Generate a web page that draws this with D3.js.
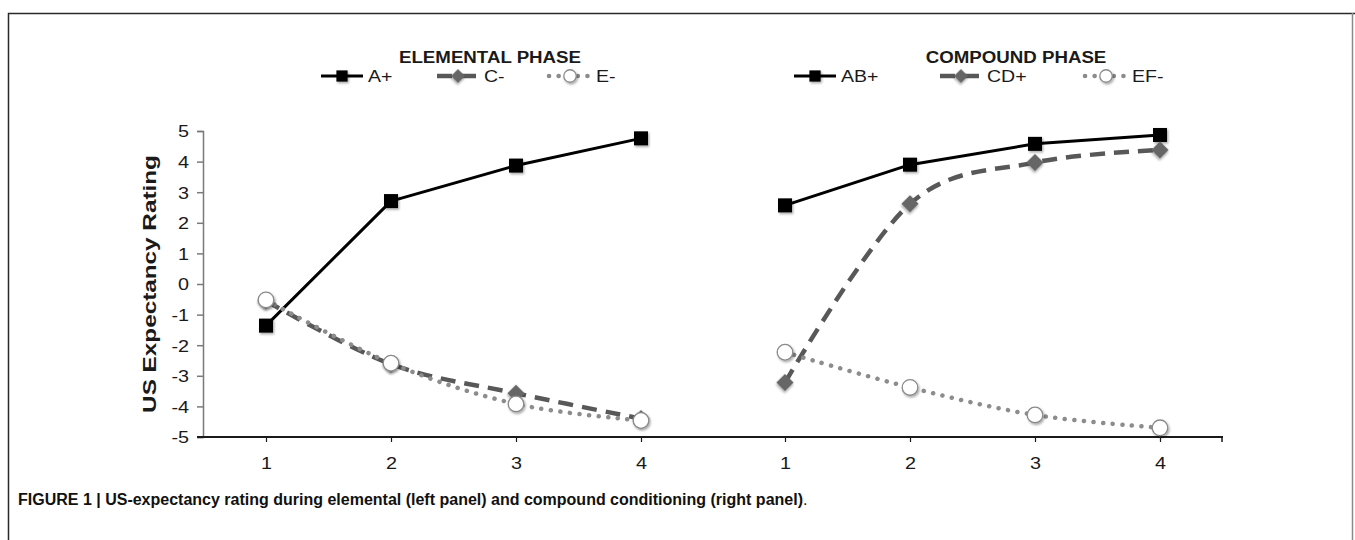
<!DOCTYPE html>
<html><head><meta charset="utf-8">
<script src="https://cdn.jsdelivr.net/npm/d3@7"></script>
<style>body{margin:0;background:#fff} svg{display:block}</style>
</head><body>
<svg id="chart" width="1355" height="540"></svg>
<script>
// ---------------- data ----------------
const trials = [1, 2, 3, 4];
const yTicks = [-5, -4, -3, -2, -1, 0, 1, 2, 3, 4, 5];
const panelTitles = ["ELEMENTAL PHASE", "COMPOUND PHASE"];
const elementalNames = ["A+", "C-", "E-"];
const compoundNames = ["AB+", "CD+", "EF-"];
const aPlus   = [-1.36, 2.71, 3.87, 4.76];
const cMinus  = [-0.55, -2.62, -3.57, -4.40];
const eMinus  = [-0.52, -2.59, -3.92, -4.46];
const abPlus  = [2.57, 3.90, 4.58, 4.87];
const cdPlus  = [-3.22, 2.62, 3.97, 4.38];
const efMinus = [-2.23, -3.38, -4.28, -4.70];
const yLabel = "US Expectancy Rating";
const captionBold = "FIGURE 1 | US-expectancy rating during elemental (left panel) and compound conditioning (right panel)";
const captionEnd = ".";

// ---------------- setup ----------------
const FONT = "'Liberation Sans', Arial, Helvetica, sans-serif";
const svg = d3.select("#chart");
const defs = svg.append("defs");
const f = defs.append("filter").attr("id", "shadow").attr("x", "-50%").attr("y", "-50%").attr("width", "200%").attr("height", "200%");
f.append("feDropShadow").attr("dx", 1.2).attr("dy", 1.6).attr("stdDeviation", 1).attr("flood-color", "#000").attr("flood-opacity", 0.35);

// frame
svg.append("line").attr("x1", 8).attr("x2", 1355).attr("y1", 13.5).attr("y2", 13.5).attr("stroke", "#2a2a2a").attr("stroke-width", 1.5);
svg.append("line").attr("x1", 8.5).attr("x2", 8.5).attr("y1", 13).attr("y2", 540).attr("stroke", "#2a2a2a").attr("stroke-width", 1.5);
svg.append("line").attr("x1", 1352.5).attr("x2", 1352.5).attr("y1", 13).attr("y2", 540).attr("stroke", "#8a8a8a").attr("stroke-width", 1.5);

const y = d3.scaleLinear().domain([-5, 5]).range([437, 131]);
const xScales = [
  d3.scaleLinear().domain([1, 4]).range([266, 641]),
  d3.scaleLinear().domain([1, 4]).range([785, 1160])
];

function stretchedText(g, txt, x, yy, opts) {
  const sx = opts.sx || 1.2;
  const rot = opts.rotate ? ` rotate(${opts.rotate})` : "";
  return g.append("text")
    .attr("transform", `translate(${x},${yy})${rot} scale(${sx},1)`)
    .attr("text-anchor", opts.anchor || "start")
    .attr("font-family", FONT)
    .attr("font-size", opts.size || 15)
    .attr("font-weight", opts.weight || "normal")
    .attr("fill", opts.fill || "#1a1a1a")
    .text(txt);
}

// y axis
const TSX = 1.2;
const fmt = d => String(d);
const yAxisG = svg.append("g").attr("transform", "translate(203,0)")
  .call(d3.axisLeft(y).tickValues(yTicks).tickSize(6).tickPadding(0).tickFormat(fmt));
yAxisG.select(".domain").attr("stroke", "#7a7a7a").attr("stroke-width", 1.5);
yAxisG.selectAll(".tick line").attr("stroke", "#7a7a7a").attr("stroke-width", 1.5);
yAxisG.selectAll(".tick text")
  .attr("x", -14 / TSX).attr("dy", "0.36em")
  .attr("transform", `scale(${TSX},1)`)
  .attr("font-family", FONT).attr("font-size", 16.5).attr("fill", "#1a1a1a");

// x axis (shared baseline)
svg.append("line").attr("x1", 197).attr("x2", 1223).attr("y1", y(-5)).attr("y2", y(-5))
  .attr("stroke", "#1a1a1a").attr("stroke-width", 2);
svg.append("line").attr("x1", 1222).attr("x2", 1222).attr("y1", y(-5)).attr("y2", y(-5) + 5)
  .attr("stroke", "#1a1a1a").attr("stroke-width", 1.5);
xScales.forEach(xs => {
  const g = svg.append("g").attr("transform", `translate(0,${y(-5)})`)
    .call(d3.axisBottom(xs).tickValues(trials).tickSize(5).tickSizeOuter(0).tickPadding(15).tickFormat(fmt));
  g.select(".domain").remove();
  g.selectAll(".tick line").attr("stroke", "#1a1a1a").attr("stroke-width", 1.2);
  g.selectAll(".tick text").attr("transform", `scale(${TSX},1)`)
    .attr("font-family", FONT).attr("font-size", 16.5).attr("fill", "#1a1a1a");
});

// y label
stretchedText(svg, yLabel, 156, (y(5) + y(-5)) / 2, {rotate: -90, anchor: "middle", size: 18, weight: "bold", sx: 1.35});

// series styles
const styles = [
  {stroke: "#000", width: 3, dash: null, cap: "butt", marker: "square", curve: d3.curveLinear},
  {stroke: "#585858", width: 4.5, dash: "15 9", cap: "butt", marker: "diamond", curve: d3.curveCatmullRom.alpha(0)},
  {stroke: "#8c8c8c", width: 4.5, dash: "0.1 9.5", cap: "round", marker: "circle", curve: d3.curveCatmullRom.alpha(0)}
];

function drawMarker(g, type, cx, cy, scale) {
  const s = scale || 1;
  if (type === "square") {
    g.append("rect").attr("x", cx - 7 * s).attr("y", cy - 7 * s).attr("width", 14 * s).attr("height", 14 * s)
      .attr("fill", "#000").attr("filter", "url(#shadow)");
  } else if (type === "diamond") {
    g.append("path").attr("d", d3.symbol(d3.symbolSquare, 150 * s * s)())
      .attr("transform", `translate(${cx},${cy}) rotate(45)`)
      .attr("fill", "#666").attr("filter", "url(#shadow)");
  } else {
    g.append("circle").attr("cx", cx).attr("cy", cy).attr("r", 7.8 * s)
      .attr("fill", "#fff").attr("stroke", "#8a8a8a").attr("stroke-width", 1.3).attr("filter", "url(#shadow)");
  }
}

const panels = [
  {names: elementalNames, series: [aPlus, cMinus, eMinus], legendX: [321, 437, 549], titleX: 490},
  {names: compoundNames, series: [abPlus, cdPlus, efMinus], legendX: [794, 940, 1085], titleX: 1016}
];

panels.forEach((p, pi) => {
  const xs = xScales[pi];
  const g = svg.append("g");
  p.series.forEach((vals, si) => {
    const st = styles[si];
    const line = d3.line().x((d, i) => xs(trials[i])).y(d => y(d)).curve(st.curve);
    g.append("path").attr("d", line(vals)).attr("fill", "none")
      .attr("stroke", st.stroke).attr("stroke-width", st.width)
      .attr("stroke-dasharray", st.dash).attr("stroke-linecap", st.cap).attr("stroke-linejoin", "round");
  });
  p.series.forEach((vals, si) => {
    const st = styles[si];
    vals.forEach((v, i) => drawMarker(g, st.marker, xs(trials[i]), y(v), 1));
  });
  stretchedText(svg, panelTitles[pi], p.titleX, 63, {anchor: "middle", size: 17, weight: "bold", sx: 1.1});
  p.names.forEach((name, si) => {
    const st = styles[si];
    const lx = p.legendX[si], ly = 76;
    svg.append("line").attr("x1", lx).attr("x2", lx + 42).attr("y1", ly).attr("y2", ly)
      .attr("stroke", st.stroke).attr("stroke-width", st.width)
      .attr("stroke-dasharray", st.dash).attr("stroke-linecap", st.cap);
    drawMarker(svg, st.marker, lx + 21, ly, 0.8);
    stretchedText(svg, name, lx + 47, ly + 6, {size: 17, sx: 1.15});
  });
});

// caption
const cap = svg.append("text").attr("x", 18).attr("y", 505)
  .attr("font-family", FONT).attr("font-size", 16).attr("fill", "#111");
cap.append("tspan").attr("font-weight", "bold").text(captionBold);
cap.append("tspan").text(captionEnd);
</script>
</body></html>
